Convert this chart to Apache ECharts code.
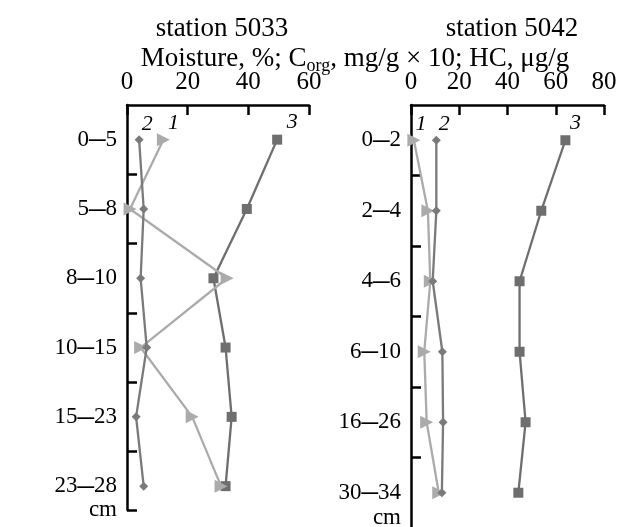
<!DOCTYPE html>
<html>
<head>
<meta charset="utf-8">
<script src="https://cdn.jsdelivr.net/npm/echarts@6/dist/echarts.min.js"></script>
<style>html,body{margin:0;padding:0;background:#fff}#c{width:617px;height:527px}</style>
</head>
<body>
<div id="c"></div>
<script>
// ---- data ----
var leftCats = ['0–5', '5–8', '8–10', '10–15', '15–23', '23–28'];
var rightCats = ['0–2', '2–4', '4–6', '6–10', '16–26', '30–34'];
var leftTicks = [0, 20, 40, 60];
var rightTicks = [0, 20, 40, 60, 80];
// 1 = Moisture, %; 2 = Corg, mg/g x 10; 3 = HC, ug/g
var left1 = [12, 1, 33, 4.5, 21.5, 31];
var left2 = [4, 5.5, 4.5, 6.5, 3, 5.5];
var left3 = [49.5, 39.5, 28.5, 32.5, 34.5, 32.5];
var right1 = [1.2, 7, 8, 5.5, 6.5, 11.5];
var right2 = [10.5, 10.5, 9, 13, 13.3, 12.8];
var right3 = [64, 54, 45, 45, 47.5, 44.5];
var seriesNames = ['1', '2', '3'];
var depthUnit = 'cm';

var FONT = "'Liberation Serif','Times New Roman',serif";
var C1 = '#ababab', C2 = '#7a7a7a', C3 = '#6e6e6e';
var LEFT_MAX = 5.344, RIGHT_MAX = 5.486;

function pts(arr) { return arr.map(function (v, i) { return [v, i]; }); }

function mk(name, arr, xi, color, symbol, size, rot, loff) {
  var d = pts(arr);
  d[0] = { value: d[0], label: { show: true, formatter: name, position: 'inside', offset: loff,
    fontFamily: FONT, fontStyle: 'italic', fontSize: 22, color: '#000' } };
  return {
    type: 'line', name: name, xAxisIndex: xi, yAxisIndex: xi, data: d,
    symbol: symbol, symbolSize: size, symbolRotate: rot, showAllSymbol: true,
    lineStyle: { color: color, width: 2.3 }, itemStyle: { color: color },
    label: { show: false }, z: symbol === 'rect' ? 3 : 4, clip: false, animation: false
  };
}

function yAx(gi, cats, max, tickVals) {
  return {
    type: 'value', gridIndex: gi, inverse: true, min: -0.5, max: max, position: 'left',
    splitLine: { show: false },
    axisLine: { show: true, onZero: false, lineStyle: { color: '#000', width: 2.5 } },
    axisTick: { show: true, inside: true, length: 10, lineStyle: { color: '#000', width: 2.5 }, customValues: tickVals },
    axisLabel: {
      show: true, customValues: [0, 1, 2, 3, 4, 5], margin: 10, hideOverlap: false,
      showMinLabel: true, showMaxLabel: true,
      fontFamily: FONT, fontSize: 23, color: '#000',
      rich: { d: { fontFamily: FONT, fontSize: 33, color: '#000' } },
      formatter: function (v) {
        var s = cats[Math.round(v)] || '';
        return s.replace('–', '{d|–}');
      }
    }
  };
}

// unit label axis ("cm") sharing the grid, without line/ticks
function unitAx(gi, max, cmVal) {
  return {
    type: 'value', gridIndex: gi, inverse: true, min: -0.5, max: max, position: 'left', offset: 0,
    splitLine: { show: false }, axisLine: { show: false, onZero: false }, axisTick: { show: false },
    axisLabel: { show: true, customValues: [cmVal], margin: 10, showMinLabel: true, showMaxLabel: true,
      fontFamily: FONT, fontSize: 23, color: '#000', formatter: function () { return depthUnit; } }
  };
}

function xAx(gi, max, ticks) {
  return {
    type: 'value', gridIndex: gi, position: 'top', min: 0, max: max, interval: 20,
    splitLine: { show: false },
    axisLine: { show: true, onZero: false, lineStyle: { color: '#000', width: 2.5 } },
    axisTick: { show: true, inside: true, length: 10, lineStyle: { color: '#000', width: 2.5 } },
    axisLabel: { show: true, margin: 10, fontFamily: FONT, fontSize: 25, color: '#000',
      showMinLabel: true, showMaxLabel: true,
      formatter: function (v) { return ticks.indexOf(v) >= 0 ? String(v) : ''; } }
  };
}

var chart = echarts.init(document.getElementById('c'), null, { renderer: 'canvas' });
chart.setOption({
  backgroundColor: '#fff',
  animation: false,
  title: [
    { text: 'station 5033', left: 217, textAlign: 'center', top: 10, textStyle: { fontFamily: FONT, fontSize: 27, fontWeight: 'normal', color: '#000' } },
    { text: 'station 5042', left: 507, textAlign: 'center', top: 10, textStyle: { fontFamily: FONT, fontSize: 27, fontWeight: 'normal', color: '#000' } },
    { text: 'Moisture, %; C{sub|org}, mg/g \u00d7 10; HC, \u03bcg/g', left: 350, textAlign: 'center', top: 38,
      textStyle: { fontFamily: FONT, fontSize: 27, fontWeight: 'normal', color: '#000',
        rich: { sub: { fontFamily: FONT, fontSize: 18, color: '#000', verticalAlign: 'bottom', padding: [14, 0, 0, 0] } } } }
  ],
  grid: [
    { left: 127, top: 105, width: 182, height: 405, outerBoundsMode: 'none', containLabel: false },
    { left: 411, top: 105, width: 193, height: 422, outerBoundsMode: 'none', containLabel: false }
  ],
  xAxis: [xAx(0, 60, leftTicks), xAx(1, 80, rightTicks)],
  yAxis: [
    yAx(0, leftCats, LEFT_MAX, [0.5, 1.5, 2.5, 3.5, 4.5, LEFT_MAX]),
    yAx(1, rightCats, RIGHT_MAX, [0.5, 1.5, 2.5, 3.5, 4.5]),
    unitAx(0, LEFT_MAX, LEFT_MAX),
    unitAx(1, RIGHT_MAX, 5.36)
  ],
  series: [
    mk(seriesNames[0], left1, 0, C1, 'triangle', 13, -90, [10, -16]),
    mk(seriesNames[1], left2, 0, C2, 'diamond', 9, 0, [8, -15]),
    mk(seriesNames[2], left3, 0, C3, 'rect', 10, 0, [15, -17]),
    mk(seriesNames[0], right1, 1, C1, 'triangle', 13, -90, [7, -16]),
    mk(seriesNames[1], right2, 1, C2, 'diamond', 9, 0, [8, -16]),
    mk(seriesNames[2], right3, 1, C3, 'rect', 10, 0, [10, -17])
  ]
});
</script>
</body>
</html>
